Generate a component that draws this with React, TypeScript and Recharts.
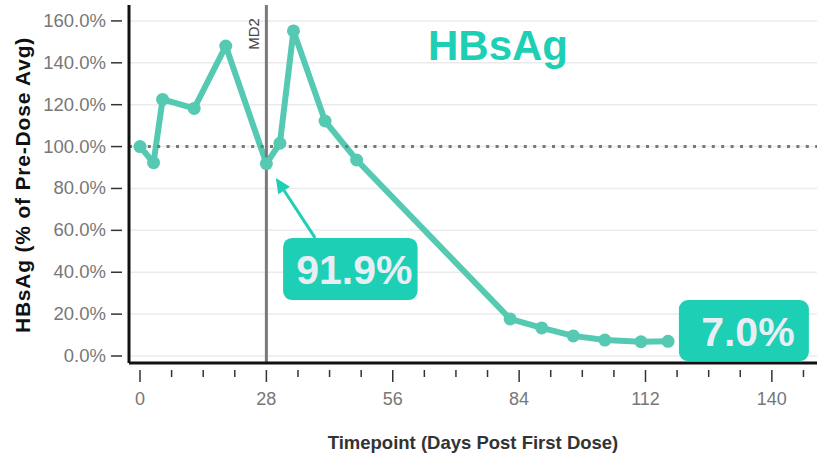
import React from "react";
import {
  LineChart,
  Line,
  XAxis,
  YAxis,
  CartesianGrid,
  ReferenceLine,
  ReferenceArea,
} from "recharts";

// days post first dose
const days = [0, 3, 5, 12, 19, 28, 31, 34, 41, 48, 82, 89, 96, 103, 111, 117];
// HBsAg as % of pre-dose average
const hbsag = [100, 92.3, 122.5, 118.2, 148, 91.9, 101.6, 155.2, 112.2, 93.6, 17.7, 13.4, 9.6, 7.6, 6.8, 7.0];

const xTicks = [0, 7, 14, 21, 28, 35, 42, 49, 56, 63, 70, 77, 84, 91, 98, 105, 112, 119, 126, 133, 140, 147];
const yTicks = [0, 20, 40, 60, 80, 100, 120, 140, 160];

const data = days.map((d, i) => ({ day: d, value: hbsag[i] }));

const TEAL = "#55c9b1";
const BOX = "#1ccfb5";
const FONT = "'Liberation Sans', Arial, sans-serif";

const XTick = (props: any) => {
  const { x, y, payload } = props;
  const major = payload.value % 28 === 0;
  return (
    <g>
      <line x1={x} x2={x} y1={y - 1} y2={y + (major ? 11 : 6)} stroke="#333" strokeWidth={1.5} />
      {major && (
        <text x={x} y={y + 34} textAnchor="middle" fontSize={18} fill="#777" fontFamily={FONT}>
          {payload.value}
        </text>
      )}
    </g>
  );
};

const YTick = (props: any) => {
  const { x, y, payload } = props;
  return (
    <g>
      <line x1={x - 10} x2={x + 1} y1={y} y2={y} stroke="#333" strokeWidth={1.5} />
      <text x={x - 15} y={y + 6} textAnchor="end" fontSize={18.5} fill="#777" fontFamily={FONT}>
        {payload.value.toFixed(1) + "%"}
      </text>
    </g>
  );
};

const callout = (label: string) => (props: any) => {
  const { x, y, width, height } = props;
  return (
    <g>
      <rect x={x} y={y} width={width} height={height} rx={9} fill={BOX} />
      <text
        x={x + width / 2 + 4}
        y={y + height / 2 + 15}
        textAnchor="middle"
        fontSize={41}
        fontWeight="bold"
        fill="#e9eef4"
        fontFamily={FONT}
      >
        {label}
      </text>
    </g>
  );
};

const Arrow = (props: any) => {
  const { x1, y1, x2, y2 } = props;
  const ang = Math.atan2(y2 - y1, x2 - x1);
  const len = 15;
  const w = 7;
  const bx = x2 - len * Math.cos(ang);
  const by = y2 - len * Math.sin(ang);
  const px = -Math.sin(ang) * w;
  const py = Math.cos(ang) * w;
  return (
    <g>
      <line x1={x1} y1={y1} x2={bx} y2={by} stroke={BOX} strokeWidth={3} />
      <polygon points={`${x2},${y2} ${bx + px},${by + py} ${bx - px},${by - py}`} fill={BOX} />
    </g>
  );
};

const XLabel = (p: any) => {
  const vb = p.viewBox || {};
  return (
    <text
      x={vb.x + vb.width / 2}
      y={449}
      textAnchor="middle"
      fontSize={18.5}
      fontWeight={600}
      fill="#333"
      fontFamily={FONT}
    >
      Timepoint (Days Post First Dose)
    </text>
  );
};

const YLabel = (p: any) => {
  const vb = p.viewBox || {};
  const cy = vb.y + vb.height / 2 + 1;
  return (
    <text
      transform={`translate(30,${cy}) rotate(-90)`}
      textAnchor="middle"
      fontSize={21}
      fontWeight="bold"
      fill="#111"
      letterSpacing={0.8}
      fontFamily={FONT}
    >
      HBsAg (% of Pre-Dose Avg)
    </text>
  );
};

export default function App() {
  return (
    <div style={{ position: "relative", width: 817, height: 456, background: "#fff" }}>
      <style>{"body{margin:0}"}</style>
      <LineChart width={817} height={456} data={data} margin={{ top: 5, right: 0, left: 0, bottom: 0 }}>
        <CartesianGrid vertical={false} stroke="#ebebeb" strokeWidth={1.5} horizontalValues={yTicks} />
        <XAxis
          dataKey="day"
          type="number"
          domain={[-2.44, 150]}
          ticks={xTicks}
          tick={<XTick />}
          tickLine={false}
          axisLine={{ stroke: "#111", strokeWidth: 3 }}
          height={93}
          allowDataOverflow
          label={{ content: XLabel }}
        />
        <YAxis
          type="number"
          domain={[-3.34, 167.6]}
          ticks={yTicks}
          tick={<YTick />}
          tickLine={false}
          axisLine={{ stroke: "#111", strokeWidth: 3 }}
          width={129}
          allowDataOverflow
          label={{ content: YLabel }}
        />
        <Line
          dataKey="value"
          stroke={TEAL}
          strokeWidth={6}
          strokeLinejoin="round"
          dot={{ r: 6.5, fill: TEAL, stroke: TEAL, strokeWidth: 0 }}
          activeDot={false}
          isAnimationActive={false}
        />
        <ReferenceLine y={100} stroke="#777" strokeWidth={3} strokeDasharray="3 6.4" />
        <ReferenceLine
          x={28}
          stroke="#7a7a7a"
          strokeWidth={3}
          label={{
            content: (p: any) => {
              const vb = p.viewBox || {};
              return (
                <text
                  transform={`translate(${vb.x - 7},${vb.y + 29}) rotate(-90)`}
                  textAnchor="middle"
                  fontSize={15}
                  fill="#444"
                  fontFamily={FONT}
                >
                  MD2
                </text>
              );
            },
          }}
        />
        <ReferenceLine
          segment={[
            { x: 38.8, y: 56.4 },
            { x: 30.1, y: 85 },
          ]}
          shape={<Arrow />}
        />
        <ReferenceArea x1={31.7} x2={61.5} y1={26.7} y2={56.4} shape={callout("91.9%")} />
        <ReferenceArea x1={119.4} x2={148.2} y1={-2.4} y2={26.7} shape={callout("7.0%")} />
      </LineChart>
      <div
        style={{
          position: "absolute",
          left: 428,
          top: 22,
          fontSize: 42,
          fontWeight: "bold",
          color: BOX,
          fontFamily: FONT,
          lineHeight: "48px",
        }}
      >
        HBsAg
      </div>
    </div>
  );
}
